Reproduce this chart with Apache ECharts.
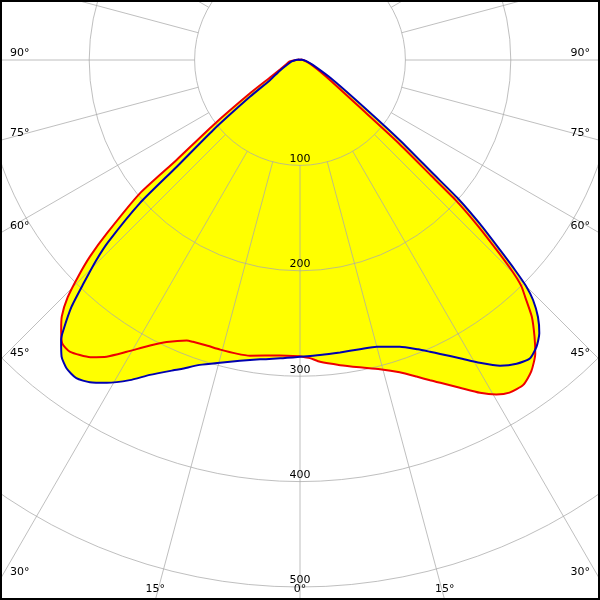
<!DOCTYPE html>
<html><head><meta charset="utf-8">
<script src="https://cdn.jsdelivr.net/npm/echarts@6/dist/echarts.min.js"></script>
<style>html,body{margin:0;padding:0;background:#fff}#c{width:600px;height:600px}</style>
</head><body><div id="c"></div>
<script>
// Gamma angles (deg from nadir) and intensities, right half (C0) and left half (C180)
const redRightGamma  = [0, 1.9, 3.8, 7.5, 11, 14.5, 17.7, 20.2, 22.1, 23.5, 26, 28.4, 30.4, 32.2, 34.5, 36.6, 38.7, 40.3, 42.1, 43.55, 44.4, 45.1, 45.9, 47.0, 48.0, 48.6, 49.9, 51.3, 55.5, 60, 65, 75, 90, 120, 180];
const redRightValues = [281, 283, 287, 292, 297, 303, 311, 320, 328, 334, 346, 359, 368, 373, 374, 368, 357, 344, 328, 310, 300, 285, 262, 231, 199, 166, 121.5, 79, 37, 22, 14, 7, 3, 1, 0];
const redLeftGamma   = [180, 120, 90, 81.7, 72, 64.6, 59.7, 56.3, 53.1, 51.0, 50.2, 48.1, 46.9, 45.7, 44.4, 42.9, 41.5, 40.0, 38.3, 35.2, 33.1, 30.7, 27.7, 25.3, 22.0, 20.8, 18.1, 15.4, 12.2, 9.6, 3.9, 0];
const redLeftValues  = [0, 1, 4, 10, 14, 21, 33, 57, 103, 151, 198, 246, 273, 294, 315, 332, 342, 351, 352.5, 345, 336, 322, 306, 296, 287, 286, 285, 285, 285, 284.5, 281, 281];

const blueRightGamma  = [0, 3.9, 7.8, 11.7, 15, 19.2, 22.2, 24.0, 25.5, 28.2, 30.7, 33.2, 35.5, 37.6, 39.5, 41.2, 42.8, 44.16, 45.0, 45.67, 46.47, 47.66, 48.76, 49.5, 51.2, 53.3, 58.8, 69, 80, 90, 120, 180];
const blueRightValues = [281.5, 280.5, 280, 280.3, 281.6, 288, 296.5, 303, 309, 321, 334, 346.6, 354, 357.4, 352.7, 344.7, 332.3, 317.4, 303.2, 285.1, 261.7, 231, 199.3, 165.9, 121.8, 79.3, 36.6, 13, 6, 3, 1, 0];
const blueLeftGamma   = [180, 120, 90, 80, 70, 62, 56.3, 53.7, 51.1, 49.1, 48.2, 46.5, 45.5, 44.1, 42.8, 41.2, 40.5, 38.8, 37.1, 35.1, 33.1, 30.9, 28.0, 25.5, 22.2, 21.0, 18.2, 14.8, 11.3, 7.6, 3.8, 0];
const blueLeftValues  = [0, 1, 4, 8, 13, 22, 34, 59, 106, 155, 204, 251, 271, 295, 319, 341, 349, 361, 367, 369, 365, 357, 344, 331, 318, 314, 304.5, 297, 291, 286.5, 283.7, 281.5];

const radialTickLabels = ['100', '200', '300', '400', '500'];
const angleTickLabels = [0, 15, 30, 45, 60, 75, 90];

const W = 600, H = 600;
const CX = 300, CY = 60;
const PX_PER_100 = 105.4;
const RMAX = 600;
const gridColor = 'rgba(170,170,170,0.75)';
const FONT = '11px "DejaVu Sans"';

function curve(rg, rv, lg, lv) {
  const pts = [];
  for (let i = 0; i < rg.length; i++) pts.push([rv[i], rg[i]]);
  for (let i = 0; i < lg.length; i++) pts.push([lv[i], 360 - lg[i]]);
  return pts;
}
const redPts = curve(redRightGamma, redRightValues, redLeftGamma, redLeftValues);
const bluePts = curve(blueRightGamma, blueRightValues, blueLeftGamma, blueLeftValues);

const outerR = PX_PER_100 * RMAX / 100;

// angle labels at the edge where each ray leaves the frame
const graphics = [];
angleTickLabels.forEach(function (g) {
  const sides = g === 0 ? [1] : [-1, 1];
  sides.forEach(function (s) {
    const rad = g * Math.PI / 180;
    const sx = Math.sin(rad), cy = Math.cos(rad);
    const tx = sx > 1e-6 ? 300 / sx : Infinity;
    const ty = cy > 1e-6 ? (H - CY) / cy : Infinity;
    let x, y, align, va;
    if (tx <= ty) {
      x = s < 0 ? 10 : W - 10;
      y = CY + tx * cy - 7;
      align = s < 0 ? 'left' : 'right';
      va = 'middle';
    } else {
      x = CX + s * ty * sx;
      y = 589;
      align = 'center';
      va = 'middle';
    }
    graphics.push({
      type: 'text', z: 20,
      style: { text: g + '°', x: x, y: y, fill: '#000', font: FONT,
               align: align, verticalAlign: va, textAlign: align, textVerticalAlign: va }
    });
  });
});
graphics.push({
  type: 'rect', z: 30,
  shape: { x: 1, y: 1, width: W - 2, height: H - 2 },
  style: { fill: null, stroke: '#000', lineWidth: 2 }
});

const chart = echarts.init(document.getElementById('c'), null, { renderer: 'canvas' });
const fillStyle = { color: '#ffff00', opacity: 1 };
const SM = 0.2;
chart.setOption({
  animation: false,
  backgroundColor: '#ffffff',
  polar: [
    { center: [CX, CY], radius: [0, outerR] },
    { center: [CX, CY], radius: [PX_PER_100, outerR] }
  ],
  angleAxis: [
    { polarIndex: 0, type: 'value', min: 0, max: 360, startAngle: 270, clockwise: false,
      axisLine: { show: false }, axisTick: { show: false }, axisLabel: { show: false }, splitLine: { show: false } },
    { polarIndex: 1, type: 'value', min: 0, max: 360, interval: 15, startAngle: 270, clockwise: false, z: 3,
      axisLine: { show: false }, axisTick: { show: false }, axisLabel: { show: false },
      splitLine: { show: true, lineStyle: { color: gridColor, width: 1 } } }
  ],
  radiusAxis: [
    { polarIndex: 0, type: 'value', min: 0, max: RMAX, interval: 100, z: 3,
      axisLine: { show: false }, axisTick: { show: false },
      axisLabel: { show: true, margin: 0, align: 'center', verticalAlign: 'bottom',
        color: '#000', fontSize: 11, fontFamily: 'DejaVu Sans', padding: [0, 0, 1, 0],
        formatter: function (v) { const s = String(v); return radialTickLabels.indexOf(s) >= 0 ? s : ''; } },
      splitLine: { show: true, lineStyle: { color: gridColor, width: 1 } } },
    { polarIndex: 1, type: 'value', min: 100, max: RMAX, show: false }
  ],
  graphic: graphics,
  series: [
    { type: 'line', coordinateSystem: 'polar', polarIndex: 0, data: redPts, symbol: 'none', smooth: SM,
      clip: false, silent: true, z: 1, lineStyle: { width: 0, opacity: 0 }, areaStyle: fillStyle },
    { type: 'line', coordinateSystem: 'polar', polarIndex: 0, data: bluePts, symbol: 'none', smooth: SM,
      clip: false, silent: true, z: 1, lineStyle: { width: 0, opacity: 0 }, areaStyle: fillStyle },
    { type: 'line', coordinateSystem: 'polar', polarIndex: 0, data: redPts, symbol: 'none', smooth: SM,
      clip: false, silent: true, z: 5, lineStyle: { color: '#ee0000', width: 2 } },
    { type: 'line', coordinateSystem: 'polar', polarIndex: 0, data: bluePts, symbol: 'none', smooth: SM,
      clip: false, silent: true, z: 5, lineStyle: { color: '#0000b0', width: 2 } }
  ]
});
</script></body></html>
